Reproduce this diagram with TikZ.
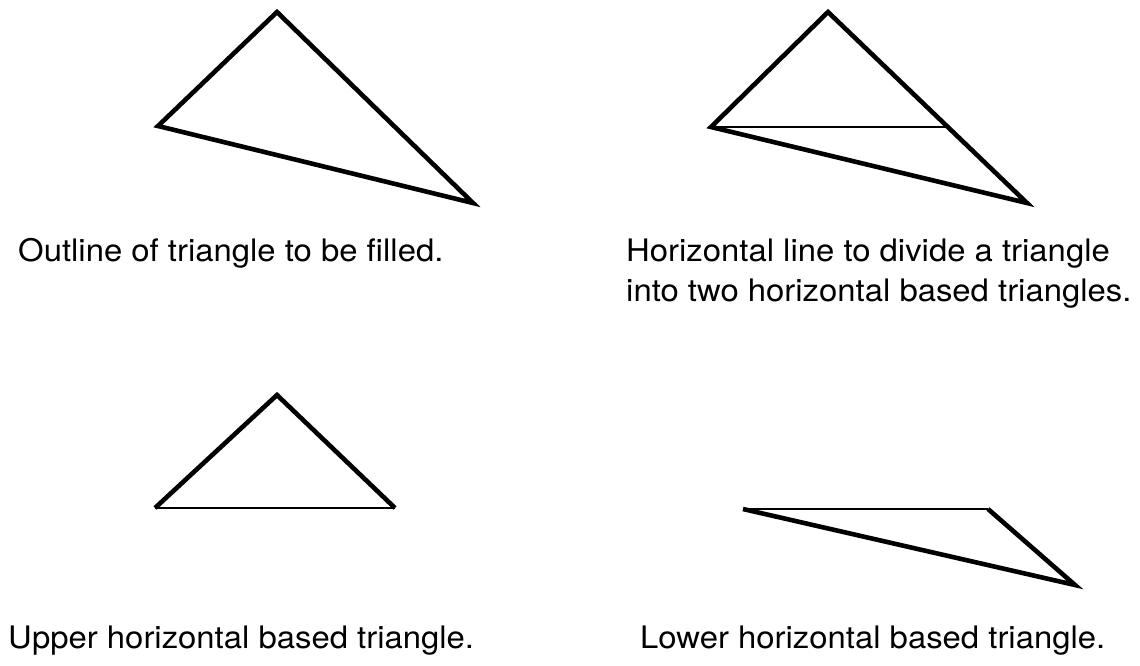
\documentclass[tikz,border=0pt]{standalone}
\usepackage{fontspec}
\setmainfont{TeX Gyre Heros}[FakeStretch=1.06]
\usepackage{tikz}
\definecolor{InkBlack}{RGB}{0, 0, 0}

\begin{document}
\begin{tikzpicture}[x=1pt, y=-1pt,
    edge/.style={line width=4.6pt, InkBlack},
    split/.style={line width=2pt, InkBlack},
    caption/.style={anchor=base west, inner sep=0pt, align=left, InkBlack,
                    font=\fontsize{31}{40}\selectfont}]
    \useasboundingbox (0,0) rectangle (1140,665);

    % Outline of the triangle
    \coordinate (apexA) at (277,12);
    \coordinate (leftA) at (158,126);
    \coordinate (rightA) at (473,203);
    \draw[edge] (apexA) -- (rightA) -- (leftA) -- cycle;
    \node[caption] (capA) at (18,261) {Outline of triangle to be filled.};

    % Triangle with the dividing line
    \coordinate (apexB) at (828,12);
    \coordinate (leftB) at (711,127);
    \coordinate (rightB) at (1027,203);
    \coordinate (cutB) at (948,127);
    \draw[edge] (apexB) -- (rightB) -- (leftB) -- cycle;
    \draw[split] (leftB) -- (cutB);
    \node[caption] (capB) at (626,301) {Horizontal line to divide a triangle\\into two horizontal based triangles.};

    % Upper part
    \coordinate (apexC) at (277,395);
    \coordinate (leftC) at (155,508);
    \coordinate (rightC) at (395,508);
    \draw[edge] (leftC) -- (apexC) -- (rightC);
    \draw[split] (leftC) -- (rightC);
    \node[caption] (capC) at (8,648) {Upper horizontal based triangle.};

    % Lower part
    \coordinate (leftD) at (743,509);
    \coordinate (rightD) at (988,509);
    \coordinate (tipD) at (1075,585);
    \draw[edge] (rightD) -- (tipD) -- (leftD);
    \draw[split] (leftD) -- (rightD);
    \node[caption] (capD) at (640,648) {Lower horizontal based triangle.};
\end{tikzpicture}
\end{document}
